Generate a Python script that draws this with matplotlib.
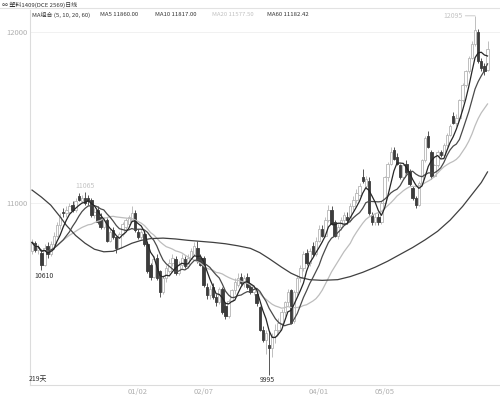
import numpy as np
import pandas as pd
import matplotlib
matplotlib.use('Agg')
import matplotlib.pyplot as plt
from matplotlib.lines import Line2D

plt.rcParams['font.family'] = ['Noto Sans CJK SC', 'DejaVu Sans']

# daily OHLC, L1409 (one entry per trading day)
opens = [10720, 10765, 10725, 10710, 10640, 10750, 10700, 10760, 10810, 10870,
         10950, 10940, 10950, 10990, 10960, 11040, 11010, 11030, 11030, 11020,
         10930, 10960, 10920, 10860, 10900, 10780, 10840, 10800, 10740, 10820,
         10860, 10880, 10900, 10940, 10830, 10800, 10820, 10760, 10640, 10570,
         10680, 10600, 10480, 10560, 10600, 10650, 10670, 10590, 10640, 10670,
         10630, 10680, 10700, 10740, 10680, 10680, 10510, 10460, 10510, 10450,
         10420, 10500, 10400, 10340, 10430, 10490, 10520, 10570, 10530, 10570,
         10510, 10480, 10470, 10390, 10260, 10200, 10170, 10150, 10220, 10260,
         10300, 10360, 10420, 10490, 10310, 10480, 10560, 10620, 10710, 10650,
         10750, 10700, 10780, 10850, 10810, 10900, 10960, 10890, 10810, 10860,
         10900, 10920, 10900, 10980, 11020, 11050, 11150, 11100, 11130, 10930,
         10890, 10920, 10890, 11000, 11150, 11230, 11310, 11270, 11220, 11150,
         11230, 11190, 11090, 11030, 10990, 11120, 11250, 11390, 11300, 11160,
         11220, 11300, 11280, 11340, 11400, 11510, 11470, 11500, 11600, 11690,
         11770, 11850, 11930, 12000, 11830, 11800, 11780]
highs = [10790, 10780, 10760, 10730, 10760, 10770, 10780, 10830, 10890, 10940,
         10970, 10980, 11000, 11010, 11030, 11060, 11050, 11065, 11050, 11030,
         10970, 10980, 10940, 10920, 10910, 10850, 10860, 10810, 10830, 10890,
         10910, 10930, 10980, 10960, 10850, 10850, 10830, 10770, 10650, 10690,
         10700, 10610, 10580, 10640, 10670, 10700, 10690, 10660, 10700, 10690,
         10700, 10740, 10770, 10780, 10700, 10690, 10530, 10520, 10530, 10470,
         10510, 10510, 10420, 10440, 10500, 10560, 10590, 10590, 10580, 10590,
         10530, 10520, 10490, 10400, 10280, 10260, 10250, 10240, 10290, 10330,
         10380, 10430, 10500, 10500, 10490, 10580, 10640, 10720, 10730, 10740,
         10770, 10800, 10870, 10870, 10920, 10990, 10980, 10900, 10880, 10920,
         10950, 10950, 11000, 11040, 11080, 11120, 11200, 11160, 11150, 10950,
         10940, 10940, 11010, 11160, 11240, 11330, 11330, 11290, 11230, 11230,
         11250, 11200, 11100, 11040, 11130, 11260, 11390, 11420, 11310, 11230,
         11310, 11310, 11350, 11410, 11460, 11530, 11520, 11610, 11700, 11780,
         11860, 11950, 12095, 12020, 11850, 11820, 11950]
lows = [10700, 10715, 10700, 10610, 10630, 10680, 10690, 10750, 10800, 10850,
        10920, 10920, 10940, 10950, 10950, 11010, 11000, 10990, 10990, 10920,
        10910, 10880, 10850, 10850, 10770, 10770, 10790, 10710, 10730, 10810,
        10850, 10870, 10890, 10830, 10790, 10790, 10750, 10590, 10550, 10560,
        10550, 10450, 10470, 10540, 10590, 10630, 10580, 10580, 10620, 10620,
        10620, 10670, 10690, 10650, 10630, 10510, 10440, 10440, 10440, 10400,
        10410, 10350, 10320, 10330, 10420, 10470, 10510, 10520, 10510, 10500,
        10470, 10460, 10400, 10250, 10190, 10120, 9995, 10100, 10180, 10230,
        10280, 10340, 10400, 10290, 10300, 10460, 10540, 10600, 10640, 10630,
        10690, 10690, 10770, 10800, 10800, 10890, 10870, 10800, 10790, 10840,
        10880, 10880, 10890, 10960, 11000, 11040, 11120, 11080, 10930, 10870,
        10870, 10870, 10880, 10990, 11130, 11220, 11250, 11220, 11140, 11140,
        11170, 11100, 11020, 10970, 10980, 11110, 11240, 11320, 11140, 11150,
        11210, 11270, 11270, 11330, 11390, 11460, 11450, 11490, 11590, 11680,
        11760, 11840, 11920, 11820, 11770, 11750, 11770]
closes = [10770, 10725, 10740, 10640, 10740, 10700, 10760, 10810, 10870, 10920,
          10940, 10960, 10980, 10960, 11010, 11020, 11030, 11000, 11010, 10930,
          10950, 10890, 10860, 10900, 10780, 10830, 10800, 10740, 10820, 10880,
          10900, 10920, 10940, 10840, 10800, 10830, 10760, 10600, 10570, 10670,
          10560, 10480, 10560, 10620, 10650, 10680, 10590, 10640, 10680, 10630,
          10680, 10720, 10750, 10660, 10640, 10520, 10460, 10500, 10450, 10420,
          10500, 10360, 10340, 10430, 10490, 10540, 10560, 10530, 10560, 10510,
          10480, 10500, 10415, 10260, 10200, 10240, 10150, 10220, 10260, 10300,
          10360, 10420, 10480, 10300, 10480, 10560, 10620, 10700, 10650, 10720,
          10700, 10780, 10850, 10810, 10900, 10960, 10880, 10810, 10860, 10900,
          10930, 10900, 10980, 11020, 11060, 11100, 11130, 11140, 10940, 10890,
          10920, 10890, 11000, 11150, 11230, 11300, 11260, 11230, 11150, 11220,
          11180, 11110, 11030, 10990, 11120, 11250, 11380, 11330, 11160, 11220,
          11300, 11280, 11340, 11400, 11450, 11470, 11500, 11600, 11690, 11770,
          11850, 11930, 12010, 11830, 11790, 11770, 11900]

# MA60 (its history is not shown)
ma60_days = [0, 3, 6, 9, 11, 14, 17, 20, 23, 26, 29, 32, 35, 38, 42, 46, 50,
             54, 58, 62, 66, 70, 73, 76, 80, 83, 86, 89, 93, 98, 102, 106,
             110, 114, 118, 122, 126, 130, 134, 138, 141, 144, 146]
ma60_vals = [11076, 11035, 10988, 10920, 10870, 10810, 10765, 10730, 10715,
             10718, 10740, 10765, 10782, 10792, 10795, 10790, 10782, 10776,
             10770, 10762, 10750, 10735, 10710, 10675, 10625, 10590, 10565,
             10552, 10548, 10552, 10570, 10595, 10625, 10660, 10700, 10740,
             10785, 10835, 10900, 10980, 11050, 11120, 11182]

tick_days = [34, 55, 92, 113]
tick_labels = ['01/02', '02/07', '04/01', '05/05']

up_col = '#b4b4b4'
dn_col = '#3c3c3c'
light = '#b0b0b0'

o = np.array(opens)
h = np.array(highs)
l = np.array(lows)
c = np.array(closes)
days = np.arange(len(c))
up = c >= o

ma = pd.Series(c)
ma5 = ma.rolling(5, min_periods=1).mean()
ma10 = ma.rolling(10, min_periods=1).mean()
ma20 = ma.rolling(20, min_periods=1).mean()

fig = plt.figure(figsize=(5, 3.95), dpi=100)
ax = fig.add_axes([30 / 500, 10 / 395, 470 / 500, 375 / 395])

ax.vlines(days[up], l[up], h[up], color=up_col, lw=0.6, zorder=2)
ax.vlines(days[~up], l[~up], h[~up], color=dn_col, lw=0.6, zorder=2)
bottom = np.minimum(o, c)
height = np.maximum(np.abs(c - o), 4)
ax.bar(days[up], height[up], bottom=bottom[up], width=0.78,
       facecolor='white', edgecolor=up_col, lw=0.6, zorder=3)
ax.bar(days[~up], height[~up], bottom=bottom[~up], width=0.78,
       facecolor=dn_col, edgecolor=dn_col, lw=0.6, zorder=3)

ax.plot(days, ma20, color='#bdbdbd', lw=0.9, zorder=4)
ax.plot(ma60_days, ma60_vals, color='#404040', lw=0.9, zorder=4)
ax.plot(days, ma10, color='#4a4a4a', lw=0.9, zorder=4)
ax.plot(days, ma5, color='#262626', lw=0.9, zorder=4)

ax.set_xlim(-0.65, 150)
ax.set_ylim(9936, 12129)
ax.set_yticks([11000, 12000])
ax.set_xticks(tick_days)
ax.set_xticklabels(tick_labels)
ax.tick_params(axis='y', length=0, pad=2, labelsize=5.5, labelcolor=light)
ax.tick_params(axis='x', length=0, pad=2, labelsize=5.5, labelcolor=light)
ax.grid(axis='y', color='#efefef', lw=0.6)
ax.set_axisbelow(True)
for s in ['top', 'right']:
    ax.spines[s].set_visible(False)
for s in ['left', 'bottom']:
    ax.spines[s].set_color('#dcdcdc')
    ax.spines[s].set_linewidth(0.8)

# high / low marks
i_top = int(np.argmax(h))
ax.annotate(str(h[i_top]), xy=(i_top, h[i_top]), xytext=(-9, 0),
            textcoords='offset points', ha='right', va='center',
            fontsize=5, color='#c4c4c4',
            arrowprops=dict(arrowstyle='-', color='#c4c4c4', lw=0.6,
                            shrinkA=0, shrinkB=0))
i_h1 = int(np.argmax(h[:30]))
ax.annotate(str(h[i_h1]), xy=(i_h1, h[i_h1]), xytext=(0, 4),
            textcoords='offset points', ha='center', va='center',
            fontsize=5, color='#c4c4c4')
i_l1 = int(np.argmin(l[:20]))
ax.annotate(str(l[i_l1]), xy=(i_l1, l[i_l1]), xytext=(2, -1.5),
            textcoords='offset points', ha='center', va='top',
            fontsize=5, color='#333333')
i_low = int(np.argmin(l))
ax.annotate(str(l[i_low]), xy=(i_low, l[i_low]), xytext=(-1, -1),
            textcoords='offset points', ha='center', va='top',
            fontsize=5, color='#333333')

ax.text(-0.002, 0.016, '219天', transform=ax.transAxes, ha='left',
        va='center', fontsize=5, color='#333333')

# header
fig.add_artist(Line2D([0, 1], [1 - 7.5 / 395] * 2, color='#e2e2e2', lw=0.8))
fs = 4.3
fig.text(2 / 500, 1 - 5 / 395, '∞ 塑料1409(DCE 2569)日线', fontsize=fs,
         color='#333333', va='center')
hy = 1 - 15 / 395
fig.text(32 / 500, hy, 'MA组合 (5, 10, 20, 60)', fontsize=fs, color='#333333', va='center')
fig.text(100 / 500, hy, 'MA5 11860.00', fontsize=fs, color='#333333', va='center')
fig.text(155 / 500, hy, 'MA10 11817.00', fontsize=fs, color='#333333', va='center')
fig.text(212 / 500, hy, 'MA20 11577.50', fontsize=fs, color='#c0c0c0', va='center')
fig.text(267 / 500, hy, 'MA60 11182.42', fontsize=fs, color='#333333', va='center')

fig.savefig('out.png', dpi=100, facecolor='white')
